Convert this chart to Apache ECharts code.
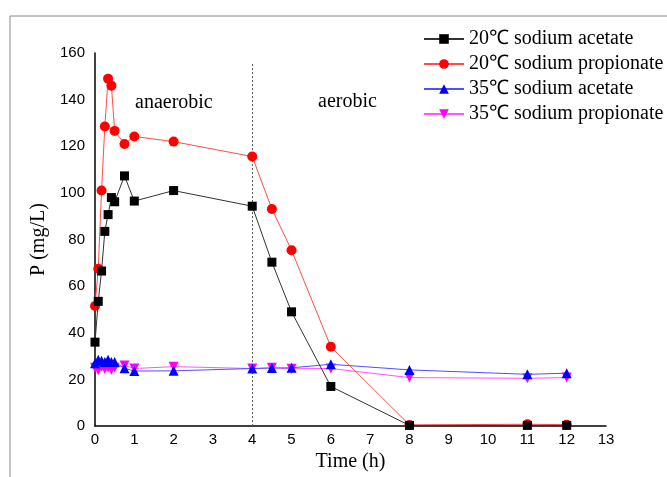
<!DOCTYPE html>
<html>
<head>
<meta charset="utf-8">
<script src="https://cdn.jsdelivr.net/npm/echarts@6/dist/echarts.min.js"></script>
<style>html,body{margin:0;padding:0;background:#fff;}#c{width:667px;height:477px;}</style>
</head>
<body>
<div id="c"></div>
<script>
// Time points (h)
var timeEarly = [0, 0.083, 0.167, 0.25, 0.333, 0.417, 0.5, 0.75, 1];
var timeLate = [2, 4, 4.5, 5, 6, 8, 11, 12];
var times = timeEarly.concat(timeLate);

var seriesNames = ['20℃ sodium acetate', '20℃ sodium propionate', '35℃ sodium acetate', '35℃ sodium propionate'];
var acetate20 = [36, 53.5, 66.5, 83.5, 90.7, 98, 96.2, 107.3, 96.5, 101, 94.3, 70.3, 49, 17, 0.3, 0.3, 0.3];
var propionate20 = [51.5, 67.5, 101, 128.5, 149, 146, 126.6, 121, 124.2, 122, 115.6, 93.1, 75.4, 34, 0.5, 0.8, 0.6];
var acetate35 = [27, 28.5, 28, 27.5, 28.5, 27.5, 27.5, 24.8, 23.6, 23.7, 24.7, 24.9, 25, 26.5, 24.1, 22.2, 22.7];
var propionate35 = [25, 24, 25.5, 24.5, 25, 24.2, 25, 26, 24.7, 25.5, 24.7, 25, 24.6, 24.7, 20.8, 20.5, 20.8];

var xTicks = [0, 13, 1];   // min, max, interval
var yTicks = [0, 160, 20];
var phaseBoundary = 4;
var phaseLabels = ['anaerobic', 'aerobic'];

function pairs(vals) { return times.map(function (t, i) { return [t, vals[i]]; }); }

var serif = '"Liberation Serif", "Times New Roman", serif';
var sans = '"Liberation Sans", Arial, sans-serif';

var chart = echarts.init(document.getElementById('c'));
var styles = [
  {color: '#000000', line: '#333333', symbol: 'rect', size: 9, rot: 0},
  {color: '#ff0000', line: '#ff4d4d', symbol: 'circle', size: 10, rot: 0},
  {color: '#0000ff', line: '#5050ff', symbol: 'triangle', size: 10, rot: 0},
  {color: '#ff00ff', line: '#ff55ff', symbol: 'triangle', size: 10, rot: 180}
];
var dataSets = [acetate20, propionate20, acetate35, propionate35];

var series = dataSets.map(function (d, i) {
  var s = styles[i];
  return {
    name: seriesNames[i],
    type: 'line',
    data: pairs(d),
    symbol: s.symbol,
    symbolSize: s.size,
    symbolRotate: s.rot,
    itemStyle: {color: s.color},
    lineStyle: {color: s.line, width: 1},
    z: 10 - i,
    animation: false
  };
});
series[0].markLine = {
  silent: true,
  symbol: ['none', 'none'],
  label: {show: false},
  lineStyle: {color: '#555', type: [2, 2], width: 1},
  data: [[{coord: [phaseBoundary, 0]}, {coord: [phaseBoundary, 156]}]],
  animation: false
};

chart.setOption({
  backgroundColor: '#fff',
  animation: false,
  grid: {left: 95, right: 61, top: 53, bottom: 50},
  legend: {
    orient: 'vertical',
    left: 418,
    top: 24,
    itemWidth: 40,
    itemHeight: 12,
    itemGap: 5,
    data: seriesNames,
    textStyle: {fontFamily: serif, fontSize: 20, color: '#000', lineHeight: 20}
  },
  xAxis: {
    type: 'value',
    min: xTicks[0], max: xTicks[1], interval: xTicks[2],
    name: 'Time (h)',
    nameLocation: 'middle',
    nameGap: 25,
    nameTextStyle: {fontFamily: serif, fontSize: 20, color: '#000'},
    axisLine: {lineStyle: {color: '#000', width: 1.5}},
    axisTick: {show: false},
    axisLabel: {fontFamily: sans, fontSize: 15, color: '#000', margin: 6},
    splitLine: {show: false}
  },
  yAxis: {
    type: 'value',
    min: yTicks[0], max: yTicks[1], interval: yTicks[2],
    name: 'P (mg/L)',
    nameLocation: 'middle',
    nameGap: 38,
    nameTextStyle: {fontFamily: serif, fontSize: 20, color: '#000'},
    axisLine: {show: true, lineStyle: {color: '#000', width: 1.5}},
    axisTick: {show: false},
    axisLabel: {fontFamily: sans, fontSize: 15, color: '#000', margin: 10},
    splitLine: {show: false}
  },
  graphic: [
    {type: 'rect', shape: {x: 10, y: 16, width: 700, height: 500}, style: {fill: 'none', stroke: '#888', lineWidth: 1}, z: -1},
    {type: 'text', left: 135, top: 93, style: {text: phaseLabels[0], font: '20px ' + serif, fill: '#000'}},
    {type: 'text', left: 318, top: 92, style: {text: phaseLabels[1], font: '20px ' + serif, fill: '#000'}}
  ],
  series: series
});
</script>
</body>
</html>
